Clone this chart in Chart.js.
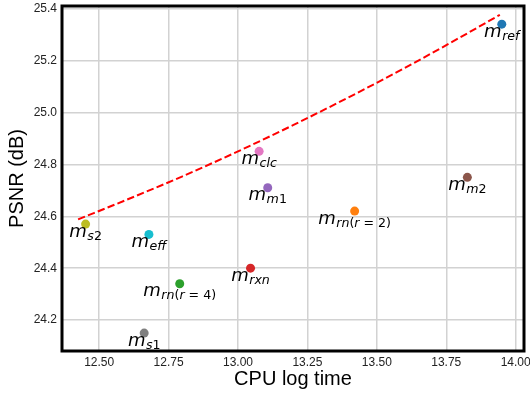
<!DOCTYPE html>
<html>
<head>
<meta charset="utf-8">
<script src="https://cdn.jsdelivr.net/npm/chart.js@4"></script>
<style>
  body { margin: 0; background: #fff; }
  canvas { display: block; }
</style>
</head>
<body>
<canvas id="grafico" width="530" height="395"></canvas>
<script>
// methods (subscript of m), CPU log time and PSNR
const metodos = ['ref', 'rn(r = 2)', 'rn(r = 4)', 'rxn', 'm1', 'm2', 'clc', 's1', 's2', 'eff'];
const tempoCpu = [13.95, 13.42, 12.79, 13.045, 13.107, 13.826, 13.076, 12.662, 12.451, 12.679];
const psnr = [25.34, 24.62, 24.34, 24.40, 24.71, 24.75, 24.85, 24.15, 24.57, 24.53];

// dashed trend curve
const curvaX = [12.424, 12.6, 12.8, 13.0, 13.2, 13.4, 13.6, 13.8, 13.943];
const curvaY = [24.588, 24.664, 24.754, 24.850, 24.952, 25.059, 25.171, 25.289, 25.376];

const ticksX = [12.5, 12.75, 13.0, 13.25, 13.5, 13.75, 14.0];
const ticksY = [24.2, 24.4, 24.6, 24.8, 25.0, 25.2, 25.4];

const cores = ['#1f77b4', '#ff7f0e', '#2ca02c', '#d62728', '#9467bd',
               '#8c564b', '#e377c2', '#7f7f7f', '#bcbd22', '#17becf'];

const datasets = metodos.map((m, i) => ({
    label: m,
    data: [{ x: tempoCpu[i], y: psnr[i] }],
    backgroundColor: cores[i],
    borderWidth: 0,
    pointRadius: 4.5,
    order: 1
}));
datasets.push({
    type: 'line',
    label: 'fit',
    data: curvaX.map((x, i) => ({ x: x, y: curvaY[i] })),
    borderColor: '#ff0000',
    borderWidth: 2,
    borderDash: [7.4, 3.2],
    pointRadius: 0,
    cubicInterpolationMode: 'monotone',
    fill: false,
    order: 2
});

// labels m_{...} under each point
const rotulos = {
    id: 'rotulos',
    afterDatasetsDraw(chart) {
        const ctx = chart.ctx;
        const sx = chart.scales.x, sy = chart.scales.y;
        const fam = '"DejaVu Sans"';
        const grande = 18, pequeno = 12.6;
        metodos.forEach((sub, i) => {
            const px = sx.getPixelForValue(tempoCpu[i]);
            const py = sy.getPixelForValue(psnr[i]);
            // split subscript into italic letters and upright rest
            const partes = [];
            for (const ch of sub) {
                const it = /[a-z]/i.test(ch);
                const last = partes[partes.length - 1];
                if (last && last.it === it) last.t += ch;
                else partes.push({ t: ch, it: it });
            }
            ctx.save();
            ctx.font = 'oblique ' + grande + 'px ' + fam;
            let w = ctx.measureText('m').width + 0.5;
            partes.forEach(p => {
                ctx.font = (p.it ? 'oblique ' : '') + pequeno + 'px ' + fam;
                p.w = ctx.measureText(p.t).width;
                w += p.w;
            });
            let x = px - w / 2;
            const base = py + 12.5;
            ctx.fillStyle = '#000';
            ctx.textBaseline = 'alphabetic';
            ctx.textAlign = 'left';
            ctx.font = 'oblique ' + grande + 'px ' + fam;
            ctx.fillText('m', x, base);
            x += ctx.measureText('m').width + 0.5;
            partes.forEach(p => {
                ctx.font = (p.it ? 'oblique ' : '') + pequeno + 'px ' + fam;
                ctx.fillText(p.t, x, base + 3);
                x += p.w;
            });
            ctx.restore();
        });
    }
};

// thick black frame around the plot area
const moldura = {
    id: 'moldura',
    afterDraw(chart) {
        const a = chart.chartArea, ctx = chart.ctx;
        ctx.save();
        ctx.strokeStyle = '#000';
        ctx.lineWidth = 3;
        ctx.strokeRect(a.left, a.top, a.right - a.left, a.bottom - a.top);
        ctx.restore();
    }
};

function semPadding(s) {
    s.paddingTop = 0;
    s.paddingBottom = 0;
    s.paddingLeft = 0;
    s.paddingRight = 0;
}

const ctx = document.getElementById('grafico').getContext('2d');
const grafico = new Chart(ctx, {
    type: 'scatter',
    data: { datasets: datasets },
    options: {
        responsive: false,
        animation: false,
        layout: { padding: { left: 0, top: 6, right: 6, bottom: 0 } },
        plugins: {
            legend: { display: false },
            tooltip: { enabled: false }
        },
        scales: {
            x: {
                type: 'linear',
                min: 12.366,
                max: 14.03,
                afterBuildTicks: s => { s.ticks = ticksX.map(v => ({ value: v })); },
                afterFit: s => { s.height = 44; semPadding(s); },
                grid: { color: '#d2d2d2', lineWidth: 1.5, drawTicks: false },
                border: { display: false },
                ticks: {
                    padding: 4,
                    color: '#222',
                    font: { family: '"Liberation Sans", Arial', size: 12 },
                    callback: v => v.toFixed(2)
                },
                title: {
                    display: true,
                    text: 'CPU log time',
                    color: '#000',
                    font: { family: '"Liberation Sans", Arial', size: 20, lineHeight: 1.2 },
                    padding: { top: 0, bottom: 4 }
                }
            },
            y: {
                type: 'linear',
                min: 24.081,
                max: 25.41,
                afterBuildTicks: s => { s.ticks = ticksY.map(v => ({ value: v })); },
                afterFit: s => { s.width = 62; semPadding(s); },
                grid: { color: '#d2d2d2', lineWidth: 1.5, drawTicks: false },
                border: { display: false },
                ticks: {
                    padding: 5,
                    color: '#222',
                    font: { family: '"Liberation Sans", Arial', size: 12 },
                    callback: v => v.toFixed(1)
                },
                title: {
                    display: true,
                    text: 'PSNR (dB)',
                    color: '#000',
                    font: { family: '"Liberation Sans", Arial', size: 20, lineHeight: 1.2 },
                    padding: { top: 5, bottom: 0 }
                }
            }
        }
    },
    plugins: [rotulos, moldura]
});
</script>
</body>
</html>
